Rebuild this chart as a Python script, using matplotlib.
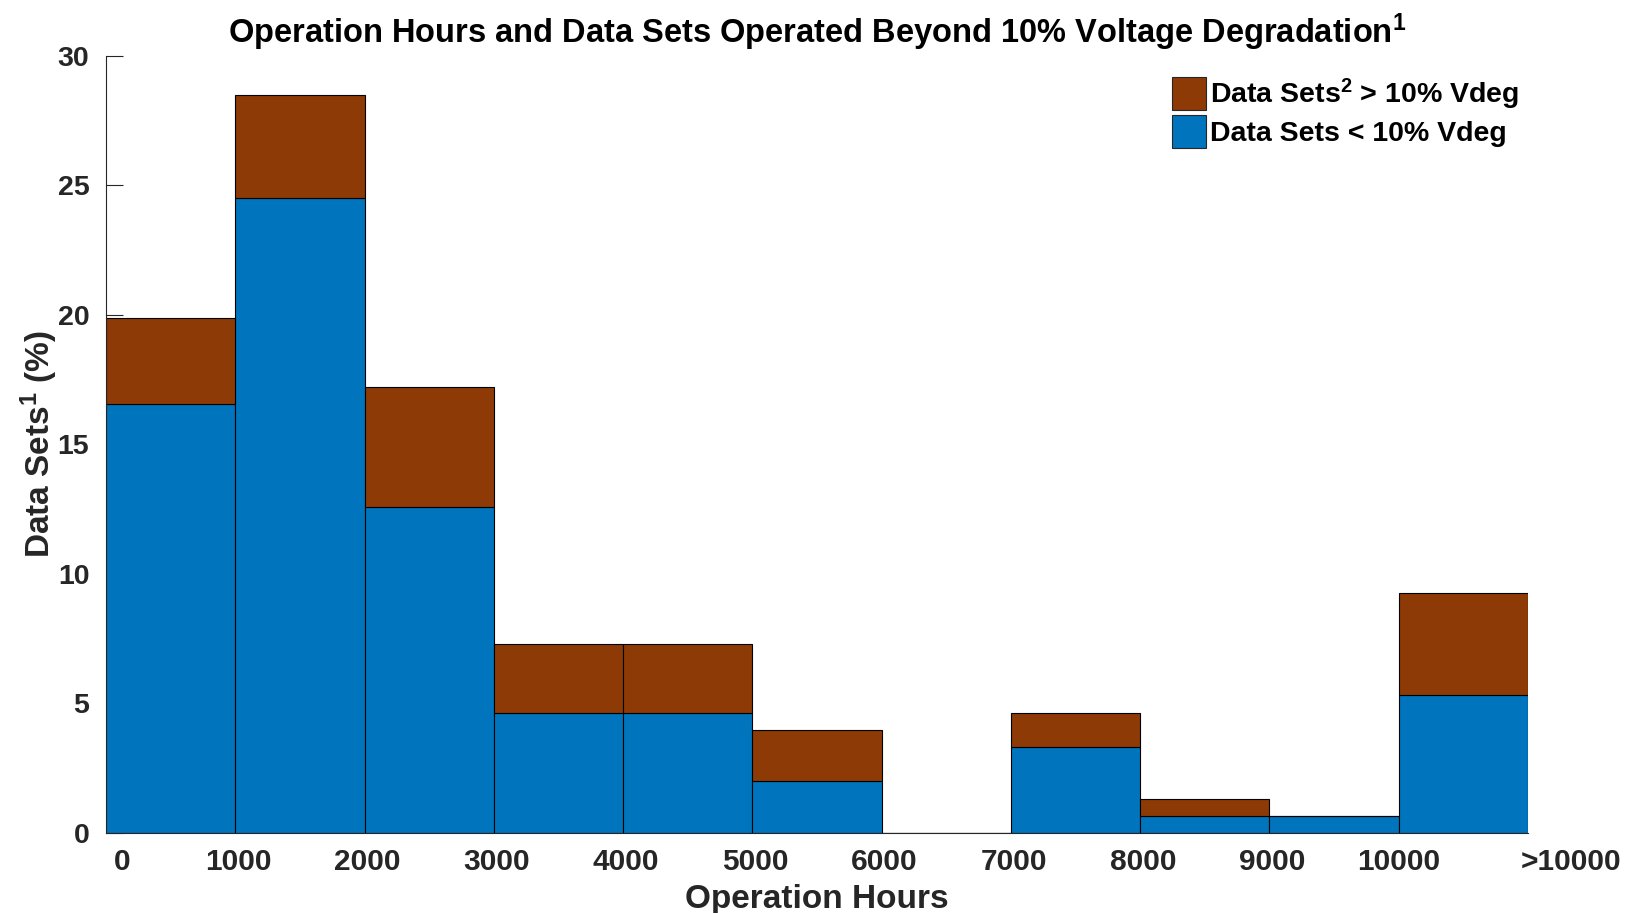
import numpy as np
import matplotlib
matplotlib.use("Agg")
import matplotlib.pyplot as plt
from matplotlib.patches import Patch
import matplotlib.transforms as mtrans

plt.rcParams['font.family'] = ['Liberation Sans', 'DejaVu Sans']
plt.rcParams['font.weight'] = 'bold'
plt.rcParams['mathtext.fontset'] = 'custom'
plt.rcParams['mathtext.rm'] = 'Liberation Sans:bold'
plt.rcParams['mathtext.bf'] = 'Liberation Sans:bold'
plt.rcParams['mathtext.it'] = 'Liberation Sans:bold'

# Data (percent of data sets per operation-hour bin)
bin_labels = ["0", "1000", "2000", "3000", "4000", "5000", "6000",
              "7000", "8000", "9000", "10000", ">10000"]
below_10 = [16.56, 24.50, 12.58, 4.64, 4.64, 1.99, 0.0, 3.31, 0.66, 0.66, 5.30]
total = [19.87, 28.48, 17.22, 7.28, 7.28, 3.97, 0.0, 4.64, 1.32, 0.66, 9.27]
above_10 = [t - b for t, b in zip(total, below_10)]

blue = '#0074BD'
brown = '#8E3A06'
dark = '#262626'

W, H = 1637, 913
fig = plt.figure(figsize=(W / 100, H / 100), dpi=100)
ax = fig.add_axes([106 / W, 1 - 832.7 / H, 1422 / W, 777 / H])

x = np.arange(len(below_10))
ax.bar(x, below_10, width=1.0, align='edge', color=blue,
       edgecolor='black', linewidth=0.8, zorder=2)
ax.bar(x, above_10, width=1.0, align='edge', bottom=below_10, color=brown,
       edgecolor='black', linewidth=0.8, zorder=2)

ax.set_xlim(0, len(below_10))
ax.set_ylim(0, 30)
ax.set_yticks(np.arange(0, 31, 5))
ax.set_xticks(np.arange(len(bin_labels)))
ax.set_xticklabels(bin_labels)

for s in ['top', 'right']:
    ax.spines[s].set_visible(False)
for s in ['left', 'bottom']:
    ax.spines[s].set_color(dark)
    ax.spines[s].set_linewidth(0.8)
    ax.spines[s].set_zorder(3)

ax.tick_params(axis='y', direction='in', length=12, width=0.8, colors=dark,
               labelsize=20.5, pad=12)
ax.tick_params(axis='x', direction='in', length=0, colors=dark,
               labelsize=21.5, pad=11)
for lab in ax.get_yticklabels() + ax.get_xticklabels():
    lab.set_fontweight('bold')
    lab.set_color(dark)

xl = ax.get_xticklabels()
shifts = [16] + [3] * (len(xl) - 3) + [0, 43]
for lab, dx in zip(xl, shifts):
    lab.set_transform(lab.get_transform() +
                      mtrans.ScaledTranslation(dx / 100, 0, fig.dpi_scale_trans))

ax.set_xlabel("Operation Hours", fontsize=24, fontweight='bold', color=dark,
              labelpad=5.5)
ax.set_ylabel("Data Sets$^{1}$ (%)", fontsize=24, fontweight='bold', color=dark,
              labelpad=-2)
ax.set_title("Operation Hours and Data Sets Operated Beyond 10% Voltage Degradation$^{1}$",
             fontsize=23.5, fontweight='bold', color='black', pad=9)

handles = [Patch(facecolor=brown, edgecolor=dark, linewidth=0.8),
           Patch(facecolor=blue, edgecolor=dark, linewidth=0.8)]
labels = ["Data Sets$^{2}$ > 10% Vdeg", "Data Sets < 10% Vdeg"]
leg = fig.legend(handles, labels, loc='upper left',
                 bbox_to_anchor=(1171.7 / W, 1 - 76.5 / H), frameon=False,
                 prop={'size': 20.5, 'weight': 'bold'},
                 handlelength=1.19, handleheight=1.4, handletextpad=0.15,
                 labelspacing=0.12, borderpad=0, borderaxespad=0)

fig.savefig("out.png", dpi=100)
